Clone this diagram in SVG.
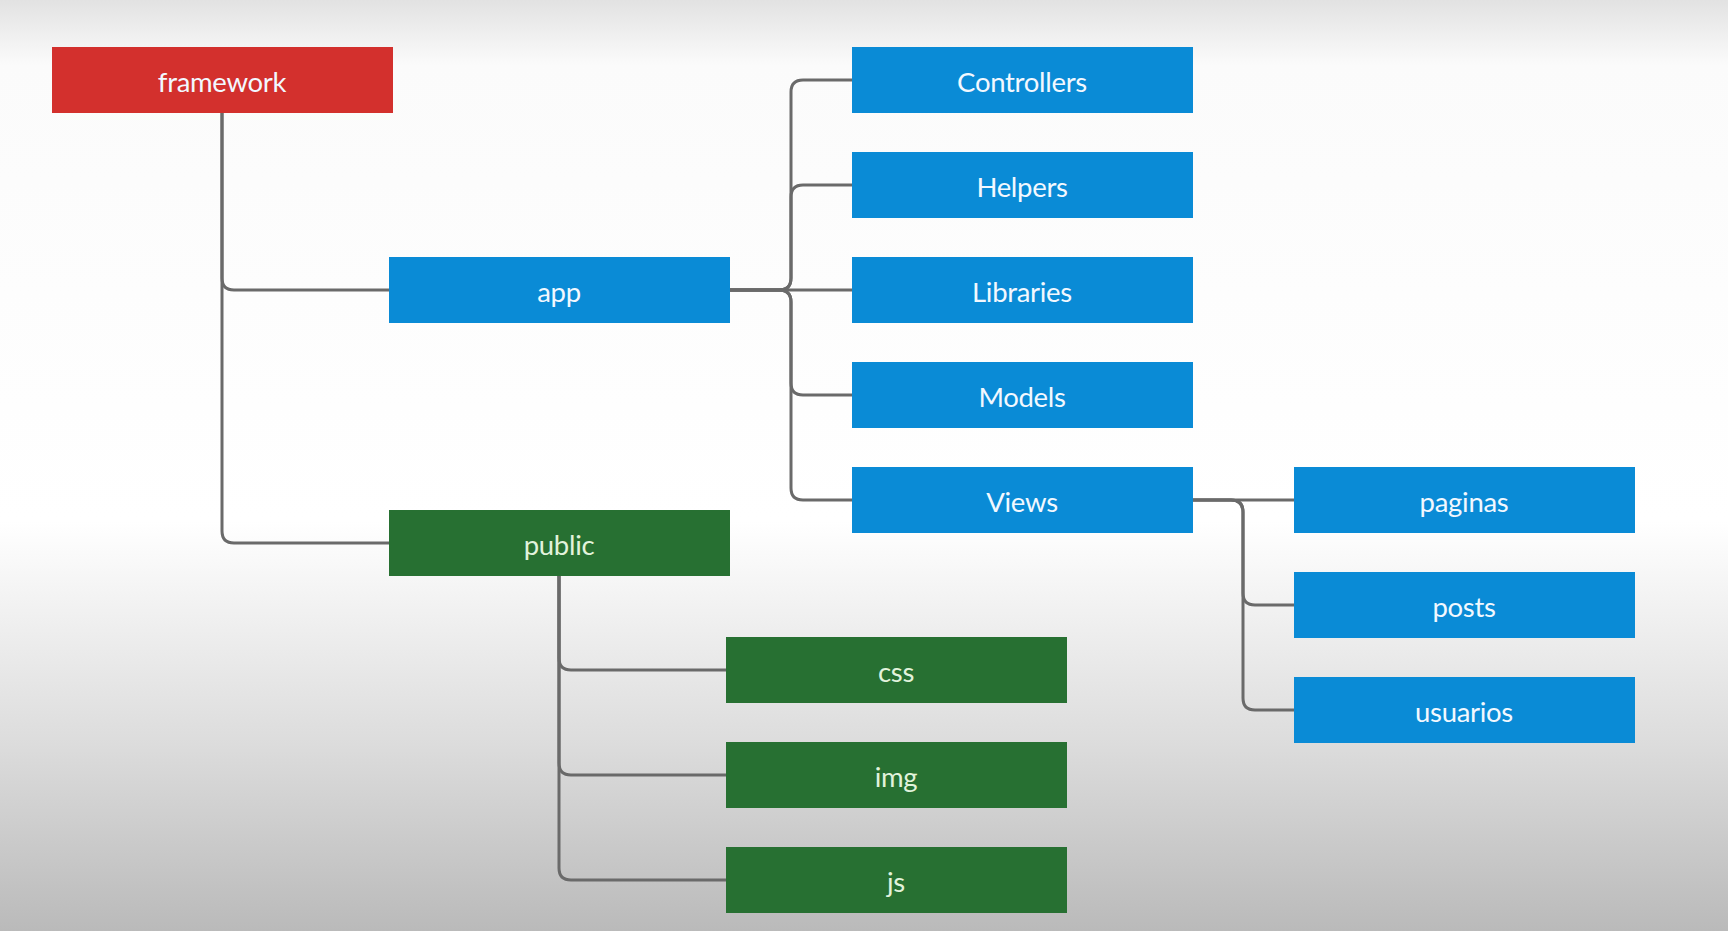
<svg xmlns="http://www.w3.org/2000/svg" width="1728" height="931" viewBox="0 0 1728 931">
<defs>
<linearGradient id="bg" x1="0" y1="0" x2="0" y2="1">
<stop offset="0" stop-color="#e2e2e2"/>
<stop offset="0.07" stop-color="#fbfbfb"/>
<stop offset="0.56" stop-color="#ffffff"/>
<stop offset="0.8" stop-color="#dcdcdc"/>
<stop offset="1" stop-color="#bababa"/>
</linearGradient>
</defs>
<style>
.box{stroke:none}
.red{fill:#d3302d}
.blue{fill:#0a8bd6}
.green{fill:#277032}
.lbl{font-family:Lato,"Liberation Sans",sans-serif;font-size:27.5px;fill:#f2f8ff;text-anchor:middle;letter-spacing:-0.3px}
.glbl{fill:#e2f3dc}
.con{fill:none;stroke:#6a6a6a;stroke-width:3;stroke-linejoin:round}
</style>
<rect x="0" y="0" width="1728" height="931" fill="url(#bg)"/>
<g id="connectors">
<path class="con" d="M222,113 V278 Q222,290 234,290 H389"/>
<path class="con" d="M222,113 V531 Q222,543 234,543 H389"/>
<path class="con" d="M730,290 H779 Q791,290 791,278 V92 Q791,80 803,80 H852"/>
<path class="con" d="M730,290 H779 Q791,290 791,278 V197 Q791,185 803,185 H852"/>
<path class="con" d="M730,290 H852"/>
<path class="con" d="M730,290 H779 Q791,290 791,302 V383 Q791,395 803,395 H852"/>
<path class="con" d="M730,290 H779 Q791,290 791,302 V488 Q791,500 803,500 H852"/>
<path class="con" d="M1193,500 H1294"/>
<path class="con" d="M1193,500 H1231 Q1243,500 1243,512 V593 Q1243,605 1255,605 H1294"/>
<path class="con" d="M1193,500 H1231 Q1243,500 1243,512 V698 Q1243,710 1255,710 H1294"/>
<path class="con" d="M559,576 V658 Q559,670 571,670 H726"/>
<path class="con" d="M559,576 V763 Q559,775 571,775 H726"/>
<path class="con" d="M559,576 V868 Q559,880 571,880 H726"/>
</g>
<g id="framework"><rect class="box red" x="52" y="47" width="341" height="66"/><text class="lbl" x="222" y="92">framework</text></g>
<g id="app"><rect class="box blue" x="389" y="257" width="341" height="66"/><text class="lbl" x="559" y="302">app</text></g>
<g id="public"><rect class="box green" x="389" y="510" width="341" height="66"/><text class="lbl glbl" x="559" y="555">public</text></g>
<g id="controllers"><rect class="box blue" x="852" y="47" width="341" height="66"/><text class="lbl" x="1022" y="92">Controllers</text></g>
<g id="helpers"><rect class="box blue" x="852" y="152" width="341" height="66"/><text class="lbl" x="1022" y="197">Helpers</text></g>
<g id="libraries"><rect class="box blue" x="852" y="257" width="341" height="66"/><text class="lbl" x="1022" y="302">Libraries</text></g>
<g id="models"><rect class="box blue" x="852" y="362" width="341" height="66"/><text class="lbl" x="1022" y="407">Models</text></g>
<g id="views"><rect class="box blue" x="852" y="467" width="341" height="66"/><text class="lbl" x="1022" y="512">Views</text></g>
<g id="paginas"><rect class="box blue" x="1294" y="467" width="341" height="66"/><text class="lbl" x="1464" y="512">paginas</text></g>
<g id="posts"><rect class="box blue" x="1294" y="572" width="341" height="66"/><text class="lbl" x="1464" y="617">posts</text></g>
<g id="usuarios"><rect class="box blue" x="1294" y="677" width="341" height="66"/><text class="lbl" x="1464" y="722">usuarios</text></g>
<g id="css"><rect class="box green" x="726" y="637" width="341" height="66"/><text class="lbl glbl" x="896" y="682">css</text></g>
<g id="img"><rect class="box green" x="726" y="742" width="341" height="66"/><text class="lbl glbl" x="896" y="787">img</text></g>
<g id="js"><rect class="box green" x="726" y="847" width="341" height="66"/><text class="lbl glbl" x="896" y="892">js</text></g>
</svg>
